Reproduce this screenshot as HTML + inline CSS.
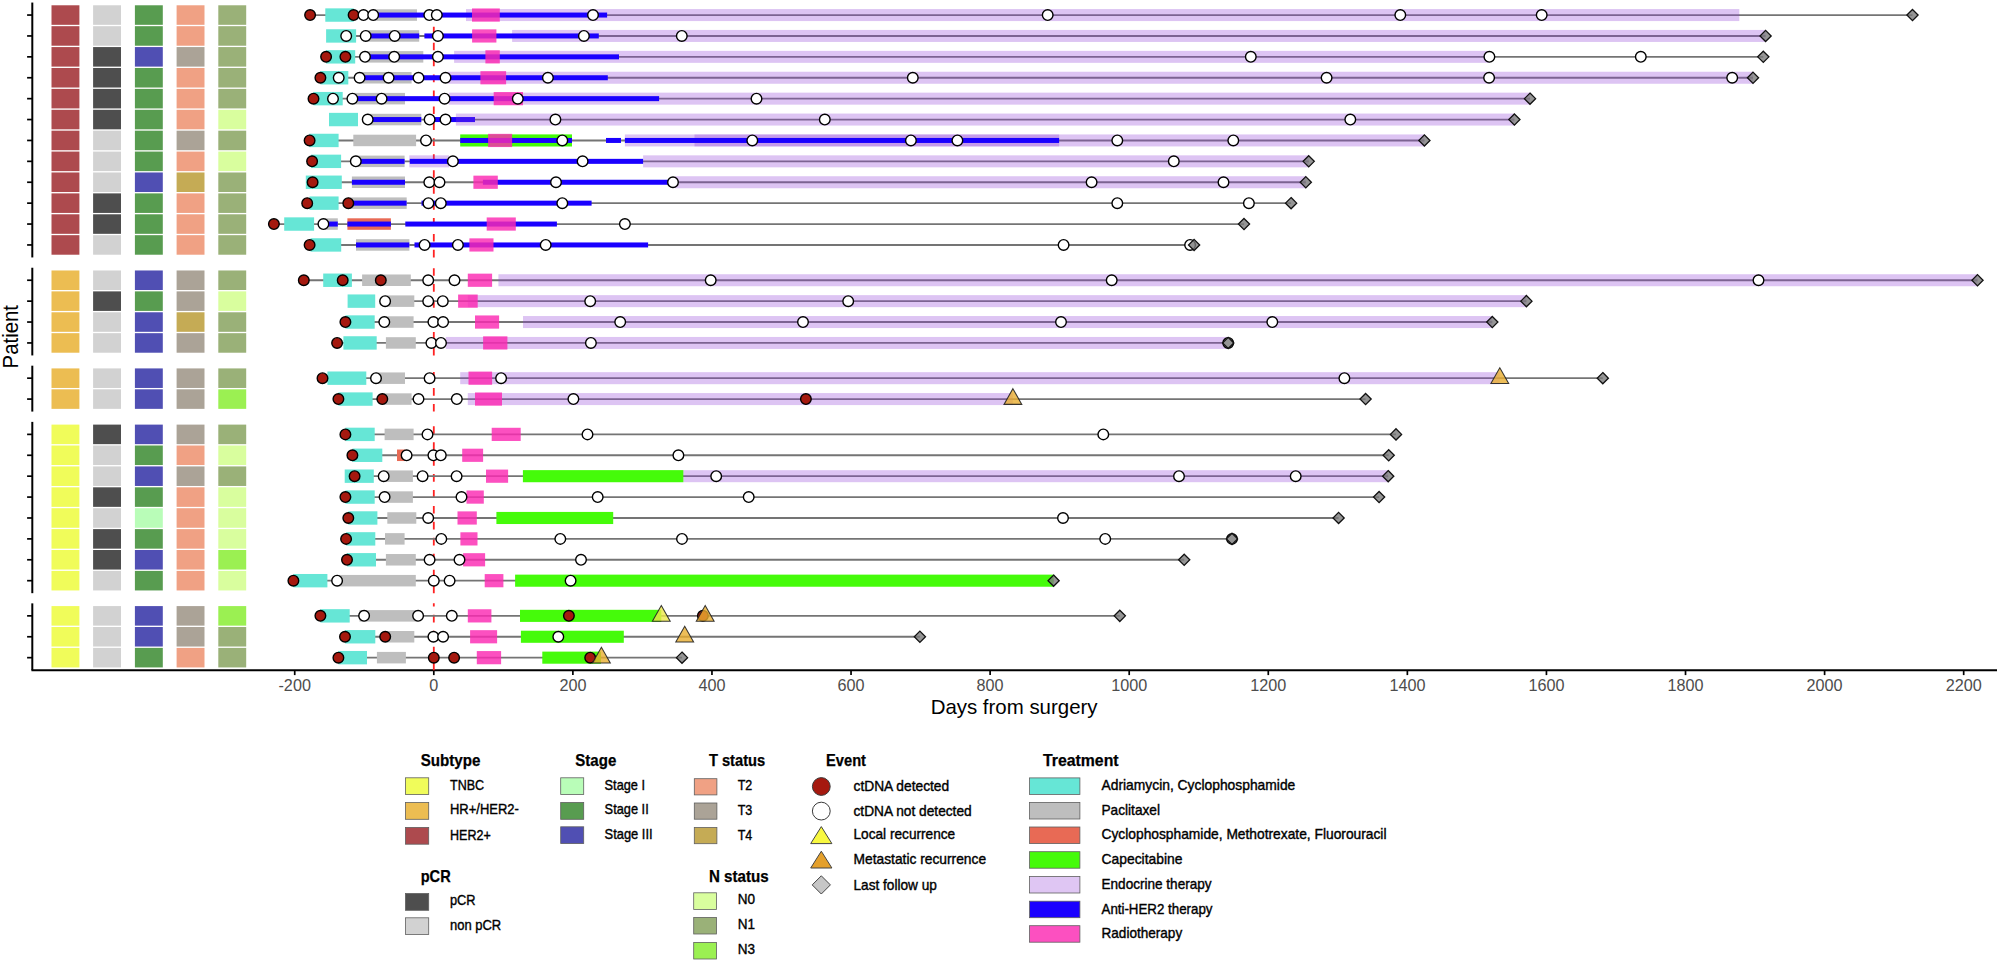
<!DOCTYPE html>
<html lang="en"><head><meta charset="utf-8"><title>Swimmer plot</title>
<style>html,body{margin:0;padding:0;background:#fff}svg{display:block}</style></head>
<body>
<svg width="2000" height="962" viewBox="0 0 2000 962">
<rect x="0" y="0" width="2000" height="962" fill="#ffffff"/>
<g shape-rendering="geometricPrecision">
<rect x="51.5" y="5.28" width="27.9" height="19.55" fill="#ad4a4e"/>
<rect x="93.1" y="5.28" width="27.9" height="19.55" fill="#d2d2d2"/>
<rect x="134.9" y="5.28" width="27.9" height="19.55" fill="#589c50"/>
<rect x="176.6" y="5.28" width="27.9" height="19.55" fill="#f0a184"/>
<rect x="218.3" y="5.28" width="27.9" height="19.55" fill="#9ab178"/>
<rect x="51.5" y="26.18" width="27.9" height="19.55" fill="#ad4a4e"/>
<rect x="93.1" y="26.18" width="27.9" height="19.55" fill="#d2d2d2"/>
<rect x="134.9" y="26.18" width="27.9" height="19.55" fill="#589c50"/>
<rect x="176.6" y="26.18" width="27.9" height="19.55" fill="#f0a184"/>
<rect x="218.3" y="26.18" width="27.9" height="19.55" fill="#9ab178"/>
<rect x="51.5" y="47.07" width="27.9" height="19.55" fill="#ad4a4e"/>
<rect x="93.1" y="47.07" width="27.9" height="19.55" fill="#4e4e4e"/>
<rect x="134.9" y="47.07" width="27.9" height="19.55" fill="#504fb3"/>
<rect x="176.6" y="47.07" width="27.9" height="19.55" fill="#aba397"/>
<rect x="218.3" y="47.07" width="27.9" height="19.55" fill="#9ab178"/>
<rect x="51.5" y="67.97" width="27.9" height="19.55" fill="#ad4a4e"/>
<rect x="93.1" y="67.97" width="27.9" height="19.55" fill="#4e4e4e"/>
<rect x="134.9" y="67.97" width="27.9" height="19.55" fill="#589c50"/>
<rect x="176.6" y="67.97" width="27.9" height="19.55" fill="#f0a184"/>
<rect x="218.3" y="67.97" width="27.9" height="19.55" fill="#9ab178"/>
<rect x="51.5" y="88.87" width="27.9" height="19.55" fill="#ad4a4e"/>
<rect x="93.1" y="88.87" width="27.9" height="19.55" fill="#4e4e4e"/>
<rect x="134.9" y="88.87" width="27.9" height="19.55" fill="#589c50"/>
<rect x="176.6" y="88.87" width="27.9" height="19.55" fill="#f0a184"/>
<rect x="218.3" y="88.87" width="27.9" height="19.55" fill="#9ab178"/>
<rect x="51.5" y="109.77" width="27.9" height="19.55" fill="#ad4a4e"/>
<rect x="93.1" y="109.77" width="27.9" height="19.55" fill="#4e4e4e"/>
<rect x="134.9" y="109.77" width="27.9" height="19.55" fill="#589c50"/>
<rect x="176.6" y="109.77" width="27.9" height="19.55" fill="#f0a184"/>
<rect x="218.3" y="109.77" width="27.9" height="19.55" fill="#d9fe9e"/>
<rect x="51.5" y="130.67" width="27.9" height="19.55" fill="#ad4a4e"/>
<rect x="93.1" y="130.67" width="27.9" height="19.55" fill="#d2d2d2"/>
<rect x="134.9" y="130.67" width="27.9" height="19.55" fill="#589c50"/>
<rect x="176.6" y="130.67" width="27.9" height="19.55" fill="#aba397"/>
<rect x="218.3" y="130.67" width="27.9" height="19.55" fill="#9ab178"/>
<rect x="51.5" y="151.57" width="27.9" height="19.55" fill="#ad4a4e"/>
<rect x="93.1" y="151.57" width="27.9" height="19.55" fill="#d2d2d2"/>
<rect x="134.9" y="151.57" width="27.9" height="19.55" fill="#589c50"/>
<rect x="176.6" y="151.57" width="27.9" height="19.55" fill="#f0a184"/>
<rect x="218.3" y="151.57" width="27.9" height="19.55" fill="#d9fe9e"/>
<rect x="51.5" y="172.47" width="27.9" height="19.55" fill="#ad4a4e"/>
<rect x="93.1" y="172.47" width="27.9" height="19.55" fill="#d2d2d2"/>
<rect x="134.9" y="172.47" width="27.9" height="19.55" fill="#504fb3"/>
<rect x="176.6" y="172.47" width="27.9" height="19.55" fill="#c5ab55"/>
<rect x="218.3" y="172.47" width="27.9" height="19.55" fill="#9ab178"/>
<rect x="51.5" y="193.38" width="27.9" height="19.55" fill="#ad4a4e"/>
<rect x="93.1" y="193.38" width="27.9" height="19.55" fill="#4e4e4e"/>
<rect x="134.9" y="193.38" width="27.9" height="19.55" fill="#589c50"/>
<rect x="176.6" y="193.38" width="27.9" height="19.55" fill="#f0a184"/>
<rect x="218.3" y="193.38" width="27.9" height="19.55" fill="#9ab178"/>
<rect x="51.5" y="214.28" width="27.9" height="19.55" fill="#ad4a4e"/>
<rect x="93.1" y="214.28" width="27.9" height="19.55" fill="#4e4e4e"/>
<rect x="134.9" y="214.28" width="27.9" height="19.55" fill="#589c50"/>
<rect x="176.6" y="214.28" width="27.9" height="19.55" fill="#f0a184"/>
<rect x="218.3" y="214.28" width="27.9" height="19.55" fill="#9ab178"/>
<rect x="51.5" y="235.17" width="27.9" height="19.55" fill="#ad4a4e"/>
<rect x="93.1" y="235.17" width="27.9" height="19.55" fill="#d2d2d2"/>
<rect x="134.9" y="235.17" width="27.9" height="19.55" fill="#589c50"/>
<rect x="176.6" y="235.17" width="27.9" height="19.55" fill="#f0a184"/>
<rect x="218.3" y="235.17" width="27.9" height="19.55" fill="#9ab178"/>
<rect x="51.5" y="270.47" width="27.9" height="19.55" fill="#ecbd52"/>
<rect x="93.1" y="270.47" width="27.9" height="19.55" fill="#d2d2d2"/>
<rect x="134.9" y="270.47" width="27.9" height="19.55" fill="#504fb3"/>
<rect x="176.6" y="270.47" width="27.9" height="19.55" fill="#aba397"/>
<rect x="218.3" y="270.47" width="27.9" height="19.55" fill="#9ab178"/>
<rect x="51.5" y="291.37" width="27.9" height="19.55" fill="#ecbd52"/>
<rect x="93.1" y="291.37" width="27.9" height="19.55" fill="#4e4e4e"/>
<rect x="134.9" y="291.37" width="27.9" height="19.55" fill="#589c50"/>
<rect x="176.6" y="291.37" width="27.9" height="19.55" fill="#aba397"/>
<rect x="218.3" y="291.37" width="27.9" height="19.55" fill="#d9fe9e"/>
<rect x="51.5" y="312.27" width="27.9" height="19.55" fill="#ecbd52"/>
<rect x="93.1" y="312.27" width="27.9" height="19.55" fill="#d2d2d2"/>
<rect x="134.9" y="312.27" width="27.9" height="19.55" fill="#504fb3"/>
<rect x="176.6" y="312.27" width="27.9" height="19.55" fill="#c5ab55"/>
<rect x="218.3" y="312.27" width="27.9" height="19.55" fill="#9ab178"/>
<rect x="51.5" y="333.17" width="27.9" height="19.55" fill="#ecbd52"/>
<rect x="93.1" y="333.17" width="27.9" height="19.55" fill="#d2d2d2"/>
<rect x="134.9" y="333.17" width="27.9" height="19.55" fill="#504fb3"/>
<rect x="176.6" y="333.17" width="27.9" height="19.55" fill="#aba397"/>
<rect x="218.3" y="333.17" width="27.9" height="19.55" fill="#9ab178"/>
<rect x="51.5" y="368.41" width="27.9" height="19.55" fill="#ecbd52"/>
<rect x="93.1" y="368.41" width="27.9" height="19.55" fill="#d2d2d2"/>
<rect x="134.9" y="368.41" width="27.9" height="19.55" fill="#504fb3"/>
<rect x="176.6" y="368.41" width="27.9" height="19.55" fill="#aba397"/>
<rect x="218.3" y="368.41" width="27.9" height="19.55" fill="#9ab178"/>
<rect x="51.5" y="389.31" width="27.9" height="19.55" fill="#ecbd52"/>
<rect x="93.1" y="389.31" width="27.9" height="19.55" fill="#d2d2d2"/>
<rect x="134.9" y="389.31" width="27.9" height="19.55" fill="#504fb3"/>
<rect x="176.6" y="389.31" width="27.9" height="19.55" fill="#aba397"/>
<rect x="218.3" y="389.31" width="27.9" height="19.55" fill="#9bf052"/>
<rect x="51.5" y="424.61" width="27.9" height="19.55" fill="#f0fc5a"/>
<rect x="93.1" y="424.61" width="27.9" height="19.55" fill="#4e4e4e"/>
<rect x="134.9" y="424.61" width="27.9" height="19.55" fill="#504fb3"/>
<rect x="176.6" y="424.61" width="27.9" height="19.55" fill="#aba397"/>
<rect x="218.3" y="424.61" width="27.9" height="19.55" fill="#9ab178"/>
<rect x="51.5" y="445.50" width="27.9" height="19.55" fill="#f0fc5a"/>
<rect x="93.1" y="445.50" width="27.9" height="19.55" fill="#d2d2d2"/>
<rect x="134.9" y="445.50" width="27.9" height="19.55" fill="#589c50"/>
<rect x="176.6" y="445.50" width="27.9" height="19.55" fill="#f0a184"/>
<rect x="218.3" y="445.50" width="27.9" height="19.55" fill="#d9fe9e"/>
<rect x="51.5" y="466.41" width="27.9" height="19.55" fill="#f0fc5a"/>
<rect x="93.1" y="466.41" width="27.9" height="19.55" fill="#d2d2d2"/>
<rect x="134.9" y="466.41" width="27.9" height="19.55" fill="#504fb3"/>
<rect x="176.6" y="466.41" width="27.9" height="19.55" fill="#aba397"/>
<rect x="218.3" y="466.41" width="27.9" height="19.55" fill="#9ab178"/>
<rect x="51.5" y="487.31" width="27.9" height="19.55" fill="#f0fc5a"/>
<rect x="93.1" y="487.31" width="27.9" height="19.55" fill="#4e4e4e"/>
<rect x="134.9" y="487.31" width="27.9" height="19.55" fill="#589c50"/>
<rect x="176.6" y="487.31" width="27.9" height="19.55" fill="#f0a184"/>
<rect x="218.3" y="487.31" width="27.9" height="19.55" fill="#d9fe9e"/>
<rect x="51.5" y="508.21" width="27.9" height="19.55" fill="#f0fc5a"/>
<rect x="93.1" y="508.21" width="27.9" height="19.55" fill="#d2d2d2"/>
<rect x="134.9" y="508.21" width="27.9" height="19.55" fill="#b9fdb8"/>
<rect x="176.6" y="508.21" width="27.9" height="19.55" fill="#f0a184"/>
<rect x="218.3" y="508.21" width="27.9" height="19.55" fill="#d9fe9e"/>
<rect x="51.5" y="529.11" width="27.9" height="19.55" fill="#f0fc5a"/>
<rect x="93.1" y="529.11" width="27.9" height="19.55" fill="#4e4e4e"/>
<rect x="134.9" y="529.11" width="27.9" height="19.55" fill="#589c50"/>
<rect x="176.6" y="529.11" width="27.9" height="19.55" fill="#f0a184"/>
<rect x="218.3" y="529.11" width="27.9" height="19.55" fill="#d9fe9e"/>
<rect x="51.5" y="550.00" width="27.9" height="19.55" fill="#f0fc5a"/>
<rect x="93.1" y="550.00" width="27.9" height="19.55" fill="#4e4e4e"/>
<rect x="134.9" y="550.00" width="27.9" height="19.55" fill="#504fb3"/>
<rect x="176.6" y="550.00" width="27.9" height="19.55" fill="#f0a184"/>
<rect x="218.3" y="550.00" width="27.9" height="19.55" fill="#9bf052"/>
<rect x="51.5" y="570.90" width="27.9" height="19.55" fill="#f0fc5a"/>
<rect x="93.1" y="570.90" width="27.9" height="19.55" fill="#d2d2d2"/>
<rect x="134.9" y="570.90" width="27.9" height="19.55" fill="#589c50"/>
<rect x="176.6" y="570.90" width="27.9" height="19.55" fill="#f0a184"/>
<rect x="218.3" y="570.90" width="27.9" height="19.55" fill="#d9fe9e"/>
<rect x="51.5" y="606.09" width="27.9" height="19.55" fill="#f0fc5a"/>
<rect x="93.1" y="606.09" width="27.9" height="19.55" fill="#d2d2d2"/>
<rect x="134.9" y="606.09" width="27.9" height="19.55" fill="#504fb3"/>
<rect x="176.6" y="606.09" width="27.9" height="19.55" fill="#aba397"/>
<rect x="218.3" y="606.09" width="27.9" height="19.55" fill="#9bf052"/>
<rect x="51.5" y="626.99" width="27.9" height="19.55" fill="#f0fc5a"/>
<rect x="93.1" y="626.99" width="27.9" height="19.55" fill="#d2d2d2"/>
<rect x="134.9" y="626.99" width="27.9" height="19.55" fill="#504fb3"/>
<rect x="176.6" y="626.99" width="27.9" height="19.55" fill="#aba397"/>
<rect x="218.3" y="626.99" width="27.9" height="19.55" fill="#9ab178"/>
<rect x="51.5" y="647.88" width="27.9" height="19.55" fill="#f0fc5a"/>
<rect x="93.1" y="647.88" width="27.9" height="19.55" fill="#d2d2d2"/>
<rect x="134.9" y="647.88" width="27.9" height="19.55" fill="#589c50"/>
<rect x="176.6" y="647.88" width="27.9" height="19.55" fill="#f0a184"/>
<rect x="218.3" y="647.88" width="27.9" height="19.55" fill="#9ab178"/>
</g>
<g stroke="#000" stroke-width="1.7" fill="none">
<line x1="32.3" y1="2.55" x2="32.3" y2="257.45" stroke-width="2"/>
<line x1="32.3" y1="267.74" x2="32.3" y2="355.44" stroke-width="2"/>
<line x1="32.3" y1="365.68" x2="32.3" y2="411.58" stroke-width="2"/>
<line x1="32.3" y1="421.88" x2="32.3" y2="593.18" stroke-width="2"/>
<line x1="32.3" y1="603.36" x2="32.3" y2="670.20" stroke-width="2"/>
<line x1="27.10" y1="15.05" x2="32.3" y2="15.05"/>
<line x1="27.10" y1="35.95" x2="32.3" y2="35.95"/>
<line x1="27.10" y1="56.85" x2="32.3" y2="56.85"/>
<line x1="27.10" y1="77.75" x2="32.3" y2="77.75"/>
<line x1="27.10" y1="98.65" x2="32.3" y2="98.65"/>
<line x1="27.10" y1="119.55" x2="32.3" y2="119.55"/>
<line x1="27.10" y1="140.45" x2="32.3" y2="140.45"/>
<line x1="27.10" y1="161.35" x2="32.3" y2="161.35"/>
<line x1="27.10" y1="182.25" x2="32.3" y2="182.25"/>
<line x1="27.10" y1="203.15" x2="32.3" y2="203.15"/>
<line x1="27.10" y1="224.05" x2="32.3" y2="224.05"/>
<line x1="27.10" y1="244.95" x2="32.3" y2="244.95"/>
<line x1="27.10" y1="280.24" x2="32.3" y2="280.24"/>
<line x1="27.10" y1="301.14" x2="32.3" y2="301.14"/>
<line x1="27.10" y1="322.04" x2="32.3" y2="322.04"/>
<line x1="27.10" y1="342.94" x2="32.3" y2="342.94"/>
<line x1="27.10" y1="378.18" x2="32.3" y2="378.18"/>
<line x1="27.10" y1="399.08" x2="32.3" y2="399.08"/>
<line x1="27.10" y1="434.38" x2="32.3" y2="434.38"/>
<line x1="27.10" y1="455.28" x2="32.3" y2="455.28"/>
<line x1="27.10" y1="476.18" x2="32.3" y2="476.18"/>
<line x1="27.10" y1="497.08" x2="32.3" y2="497.08"/>
<line x1="27.10" y1="517.98" x2="32.3" y2="517.98"/>
<line x1="27.10" y1="538.88" x2="32.3" y2="538.88"/>
<line x1="27.10" y1="559.78" x2="32.3" y2="559.78"/>
<line x1="27.10" y1="580.68" x2="32.3" y2="580.68"/>
<line x1="27.10" y1="615.86" x2="32.3" y2="615.86"/>
<line x1="27.10" y1="636.76" x2="32.3" y2="636.76"/>
<line x1="27.10" y1="657.66" x2="32.3" y2="657.66"/>
<line x1="31.45" y1="670.2" x2="1997" y2="670.2" stroke-width="2"/>
<line x1="294.72" y1="670.2" x2="294.72" y2="675.10"/>
<line x1="433.80" y1="670.2" x2="433.80" y2="675.10"/>
<line x1="572.88" y1="670.2" x2="572.88" y2="675.10"/>
<line x1="711.96" y1="670.2" x2="711.96" y2="675.10"/>
<line x1="851.04" y1="670.2" x2="851.04" y2="675.10"/>
<line x1="990.12" y1="670.2" x2="990.12" y2="675.10"/>
<line x1="1129.20" y1="670.2" x2="1129.20" y2="675.10"/>
<line x1="1268.28" y1="670.2" x2="1268.28" y2="675.10"/>
<line x1="1407.36" y1="670.2" x2="1407.36" y2="675.10"/>
<line x1="1546.44" y1="670.2" x2="1546.44" y2="675.10"/>
<line x1="1685.52" y1="670.2" x2="1685.52" y2="675.10"/>
<line x1="1824.60" y1="670.2" x2="1824.60" y2="675.10"/>
<line x1="1963.68" y1="670.2" x2="1963.68" y2="675.10"/>
</g>
<g stroke="#ff2222" stroke-width="1.8" stroke-dasharray="7.6 8.33" fill="none">
<line x1="433.8" y1="257.45" x2="433.8" y2="2.55"/>
<line x1="433.8" y1="355.44" x2="433.8" y2="267.74"/>
<line x1="433.8" y1="411.58" x2="433.8" y2="365.68"/>
<line x1="433.8" y1="593.18" x2="433.8" y2="421.88"/>
<line x1="433.8" y1="670.20" x2="433.8" y2="603.36"/>
</g>
<g stroke="#747474" stroke-width="1.85" fill="none">
<line x1="310.1" y1="15.05" x2="1912.5" y2="15.05"/>
<line x1="346.2" y1="35.95" x2="1765.6" y2="35.95"/>
<line x1="326.1" y1="56.85" x2="1763.3" y2="56.85"/>
<line x1="320.4" y1="77.75" x2="1753.0" y2="77.75"/>
<line x1="313.5" y1="98.65" x2="1530.0" y2="98.65"/>
<line x1="367.7" y1="119.55" x2="1514.4" y2="119.55"/>
<line x1="309.6" y1="140.45" x2="1424.4" y2="140.45"/>
<line x1="312.1" y1="161.35" x2="1308.7" y2="161.35"/>
<line x1="312.6" y1="182.25" x2="1305.8" y2="182.25"/>
<line x1="307.2" y1="203.15" x2="1291.1" y2="203.15"/>
<line x1="273.9" y1="224.05" x2="1244.0" y2="224.05"/>
<line x1="309.6" y1="244.95" x2="1194.0" y2="244.95"/>
<line x1="303.8" y1="280.24" x2="1977.5" y2="280.24"/>
<line x1="385.1" y1="301.14" x2="1526.4" y2="301.14"/>
<line x1="345.4" y1="322.04" x2="1492.3" y2="322.04"/>
<line x1="337.1" y1="342.94" x2="1228.1" y2="342.94"/>
<line x1="322.5" y1="378.18" x2="1602.8" y2="378.18"/>
<line x1="338.4" y1="399.08" x2="1365.6" y2="399.08"/>
<line x1="345.4" y1="434.38" x2="1396.0" y2="434.38"/>
<line x1="352.4" y1="455.28" x2="1388.7" y2="455.28"/>
<line x1="354.6" y1="476.18" x2="1388.2" y2="476.18"/>
<line x1="345.4" y1="497.08" x2="1379.1" y2="497.08"/>
<line x1="348.3" y1="517.98" x2="1338.6" y2="517.98"/>
<line x1="346.1" y1="538.88" x2="1232.0" y2="538.88"/>
<line x1="347.0" y1="559.78" x2="1184.2" y2="559.78"/>
<line x1="293.4" y1="580.68" x2="1053.6" y2="580.68"/>
<line x1="320.4" y1="615.86" x2="1119.8" y2="615.86"/>
<line x1="345.0" y1="636.76" x2="919.9" y2="636.76"/>
<line x1="338.4" y1="657.66" x2="682.0" y2="657.66"/>
</g>
<g fill="#66e6d6" fill-opacity="1.0">
<rect x="325.3" y="8.35" width="28.4" height="13.4"/>
<rect x="326.1" y="29.25" width="30.0" height="13.4"/>
<rect x="326.0" y="50.15" width="29.2" height="13.4"/>
<rect x="320.4" y="71.05" width="27.9" height="13.4"/>
<rect x="313.5" y="91.95" width="29.2" height="13.4"/>
<rect x="329.0" y="112.85" width="29.0" height="13.4"/>
<rect x="309.3" y="133.75" width="29.3" height="13.4"/>
<rect x="311.0" y="154.65" width="30.1" height="13.4"/>
<rect x="305.8" y="175.55" width="36.0" height="13.4"/>
<rect x="309.5" y="196.45" width="29.1" height="13.4"/>
<rect x="284.2" y="217.35" width="29.9" height="13.4"/>
<rect x="310.5" y="238.25" width="30.7" height="13.4"/>
<rect x="323.2" y="273.54" width="28.7" height="13.4"/>
<rect x="347.6" y="294.44" width="27.6" height="13.4"/>
<rect x="345.4" y="315.34" width="29.3" height="13.4"/>
<rect x="343.4" y="336.24" width="33.3" height="13.4"/>
<rect x="327.4" y="371.48" width="38.9" height="13.4"/>
<rect x="338.4" y="392.38" width="34.2" height="13.4"/>
<rect x="345.4" y="427.68" width="29.3" height="13.4"/>
<rect x="352.4" y="448.58" width="29.9" height="13.4"/>
<rect x="344.7" y="469.48" width="29.1" height="13.4"/>
<rect x="345.4" y="490.38" width="29.3" height="13.4"/>
<rect x="348.3" y="511.28" width="29.1" height="13.4"/>
<rect x="346.1" y="532.18" width="29.2" height="13.4"/>
<rect x="347.0" y="553.08" width="29.0" height="13.4"/>
<rect x="293.4" y="573.98" width="34.0" height="13.4"/>
<rect x="320.4" y="609.16" width="29.3" height="13.4"/>
<rect x="345.0" y="630.06" width="30.3" height="13.4"/>
<rect x="338.4" y="650.96" width="28.6" height="13.4"/>
</g>
<g fill="#bebebe" fill-opacity="1.0">
<rect x="373.0" y="9.30" width="44.0" height="11.5"/>
<rect x="365.7" y="30.20" width="53.5" height="11.5"/>
<rect x="365.0" y="51.10" width="58.3" height="11.5"/>
<rect x="359.6" y="72.00" width="52.0" height="11.5"/>
<rect x="352.4" y="92.90" width="52.6" height="11.5"/>
<rect x="367.7" y="113.80" width="53.6" height="11.5"/>
<rect x="353.3" y="134.70" width="62.8" height="11.5"/>
<rect x="355.8" y="155.60" width="48.8" height="11.5"/>
<rect x="351.9" y="176.50" width="53.1" height="11.5"/>
<rect x="348.3" y="197.40" width="58.4" height="11.5"/>
<rect x="323.4" y="218.30" width="14.4" height="11.5"/>
<rect x="356.0" y="239.20" width="53.4" height="11.5"/>
<rect x="362.1" y="274.49" width="48.7" height="11.5"/>
<rect x="385.0" y="295.39" width="29.3" height="11.5"/>
<rect x="384.3" y="316.29" width="29.3" height="11.5"/>
<rect x="385.9" y="337.19" width="29.9" height="11.5"/>
<rect x="376.0" y="372.43" width="29.0" height="11.5"/>
<rect x="382.3" y="393.33" width="29.3" height="11.5"/>
<rect x="384.6" y="428.63" width="29.0" height="11.5"/>
<rect x="383.7" y="470.43" width="29.2" height="11.5"/>
<rect x="384.6" y="491.33" width="28.3" height="11.5"/>
<rect x="387.3" y="512.23" width="29.0" height="11.5"/>
<rect x="385.0" y="533.13" width="19.6" height="11.5"/>
<rect x="385.9" y="554.03" width="29.9" height="11.5"/>
<rect x="337.1" y="574.93" width="78.7" height="11.5"/>
<rect x="359.5" y="610.11" width="58.6" height="11.5"/>
<rect x="385.2" y="631.01" width="29.1" height="11.5"/>
<rect x="376.9" y="651.91" width="29.0" height="11.5"/>
</g>
<g fill="#e86a55" fill-opacity="1.0">
<rect x="347.4" y="218.30" width="43.5" height="11.5"/>
<rect x="397.0" y="449.53" width="8.3" height="11.5"/>
</g>
<g fill="#45fb0a" fill-opacity="1.0">
<rect x="460.2" y="134.40" width="111.8" height="12.1"/>
<rect x="522.9" y="470.13" width="160.5" height="12.1"/>
<rect x="496.4" y="511.93" width="116.8" height="12.1"/>
<rect x="515.1" y="574.63" width="538.5" height="12.1"/>
<rect x="520.0" y="609.81" width="141.3" height="12.1"/>
<rect x="520.9" y="630.71" width="102.9" height="12.1"/>
<rect x="542.3" y="651.61" width="58.7" height="12.1"/>
</g>
<g fill="#8e3ad7" fill-opacity="0.3">
<rect x="466.0" y="9.05" width="1273.3" height="12.0"/>
<rect x="512.1" y="29.95" width="1253.5" height="12.0"/>
<rect x="454.1" y="50.85" width="1035.2" height="12.0"/>
<rect x="448.0" y="71.75" width="1305.0" height="12.0"/>
<rect x="448.8" y="92.65" width="1081.2" height="12.0"/>
<rect x="455.9" y="113.55" width="1058.5" height="12.0"/>
<rect x="624.9" y="134.45" width="799.5" height="12.0"/>
<rect x="694.5" y="134.45" width="364.6" height="12.0"/>
<rect x="409.3" y="155.35" width="39.7" height="12.0"/>
<rect x="643.1" y="155.35" width="665.6" height="12.0"/>
<rect x="675.0" y="176.25" width="630.8" height="12.0"/>
<rect x="498.4" y="274.24" width="1479.1" height="12.0"/>
<rect x="467.8" y="295.14" width="1058.6" height="12.0"/>
<rect x="523.0" y="316.04" width="969.3" height="12.0"/>
<rect x="445.8" y="336.94" width="782.3" height="12.0"/>
<rect x="460.2" y="372.18" width="1039.6" height="12.0"/>
<rect x="467.8" y="393.08" width="545.1" height="12.0"/>
<rect x="683.4" y="470.18" width="704.8" height="12.0"/>
</g>
<g fill="#1a00ff" fill-opacity="1.0">
<rect x="376.0" y="12.55" width="231.1" height="5.0"/>
<rect x="368.0" y="33.45" width="51.2" height="5.0"/>
<rect x="424.4" y="33.45" width="174.4" height="5.0"/>
<rect x="367.0" y="54.35" width="252.0" height="5.0"/>
<rect x="361.4" y="75.25" width="246.4" height="5.0"/>
<rect x="354.6" y="96.15" width="304.5" height="5.0"/>
<rect x="370.4" y="117.05" width="50.9" height="5.0"/>
<rect x="424.3" y="117.05" width="50.7" height="5.0"/>
<rect x="460.2" y="137.95" width="111.8" height="5.0"/>
<rect x="606.0" y="137.95" width="15.0" height="5.0"/>
<rect x="624.9" y="137.95" width="434.2" height="5.0"/>
<rect x="358.0" y="158.85" width="46.6" height="5.0"/>
<rect x="409.8" y="158.85" width="233.3" height="5.0"/>
<rect x="351.9" y="179.75" width="53.1" height="5.0"/>
<rect x="482.9" y="179.75" width="190.1" height="5.0"/>
<rect x="350.0" y="200.65" width="56.6" height="5.0"/>
<rect x="421.5" y="200.65" width="170.1" height="5.0"/>
<rect x="326.5" y="221.55" width="11.3" height="5.0"/>
<rect x="347.4" y="221.55" width="43.5" height="5.0"/>
<rect x="405.3" y="221.55" width="151.6" height="5.0"/>
<rect x="356.0" y="242.45" width="53.3" height="5.0"/>
<rect x="414.5" y="242.45" width="233.6" height="5.0"/>
</g>
<g fill="#8e3ad7" fill-opacity="0.3">
<rect x="455.9" y="117.05" width="19.1" height="5.0"/>
</g>
<g fill="#fb2ab2" fill-opacity="0.82">
<rect x="472.0" y="8.45" width="27.8" height="13.2"/>
<rect x="472.1" y="29.35" width="24.3" height="13.2"/>
<rect x="485.4" y="50.25" width="14.4" height="13.2"/>
<rect x="480.4" y="71.15" width="25.7" height="13.2"/>
<rect x="493.7" y="92.05" width="29.3" height="13.2"/>
<rect x="488.1" y="133.85" width="24.0" height="13.2"/>
<rect x="473.4" y="175.65" width="24.4" height="13.2"/>
<rect x="486.7" y="217.45" width="29.1" height="13.2"/>
<rect x="469.4" y="238.35" width="24.1" height="13.2"/>
<rect x="467.8" y="273.64" width="24.3" height="13.2"/>
<rect x="458.1" y="294.54" width="19.6" height="13.2"/>
<rect x="475.0" y="315.44" width="24.1" height="13.2"/>
<rect x="483.1" y="336.34" width="24.3" height="13.2"/>
<rect x="468.5" y="371.58" width="23.6" height="13.2"/>
<rect x="475.0" y="392.48" width="27.0" height="13.2"/>
<rect x="491.7" y="427.78" width="29.0" height="13.2"/>
<rect x="462.2" y="448.68" width="20.9" height="13.2"/>
<rect x="486.0" y="469.58" width="22.1" height="13.2"/>
<rect x="466.5" y="490.48" width="17.3" height="13.2"/>
<rect x="457.5" y="511.38" width="19.3" height="13.2"/>
<rect x="460.4" y="532.28" width="17.1" height="13.2"/>
<rect x="463.1" y="553.18" width="22.0" height="13.2"/>
<rect x="484.7" y="574.08" width="18.7" height="13.2"/>
<rect x="467.8" y="609.26" width="23.6" height="13.2"/>
<rect x="470.1" y="630.16" width="27.0" height="13.2"/>
<rect x="476.8" y="651.06" width="24.3" height="13.2"/>
</g>
<g>
<circle cx="310.1" cy="15.05" r="5.3" fill="#a5190f" stroke="#000" stroke-width="1.4"/>
<circle cx="353.6" cy="15.05" r="5.3" fill="#a5190f" stroke="#000" stroke-width="1.4"/>
<circle cx="326.1" cy="56.85" r="5.3" fill="#a5190f" stroke="#000" stroke-width="1.4"/>
<circle cx="345.4" cy="56.85" r="5.3" fill="#a5190f" stroke="#000" stroke-width="1.4"/>
<circle cx="320.4" cy="77.75" r="5.3" fill="#a5190f" stroke="#000" stroke-width="1.4"/>
<circle cx="313.5" cy="98.65" r="5.3" fill="#a5190f" stroke="#000" stroke-width="1.4"/>
<circle cx="309.6" cy="140.45" r="5.3" fill="#a5190f" stroke="#000" stroke-width="1.4"/>
<circle cx="312.1" cy="161.35" r="5.3" fill="#a5190f" stroke="#000" stroke-width="1.4"/>
<circle cx="312.6" cy="182.25" r="5.3" fill="#a5190f" stroke="#000" stroke-width="1.4"/>
<circle cx="307.2" cy="203.15" r="5.3" fill="#a5190f" stroke="#000" stroke-width="1.4"/>
<circle cx="348.3" cy="203.15" r="5.3" fill="#a5190f" stroke="#000" stroke-width="1.4"/>
<circle cx="273.9" cy="224.05" r="5.3" fill="#a5190f" stroke="#000" stroke-width="1.4"/>
<circle cx="309.6" cy="244.95" r="5.3" fill="#a5190f" stroke="#000" stroke-width="1.4"/>
<circle cx="303.8" cy="280.24" r="5.3" fill="#a5190f" stroke="#000" stroke-width="1.4"/>
<circle cx="342.7" cy="280.24" r="5.3" fill="#a5190f" stroke="#000" stroke-width="1.4"/>
<circle cx="380.8" cy="280.24" r="5.3" fill="#a5190f" stroke="#000" stroke-width="1.4"/>
<circle cx="345.4" cy="322.04" r="5.3" fill="#a5190f" stroke="#000" stroke-width="1.4"/>
<circle cx="337.1" cy="342.94" r="5.3" fill="#a5190f" stroke="#000" stroke-width="1.4"/>
<circle cx="322.5" cy="378.18" r="5.3" fill="#a5190f" stroke="#000" stroke-width="1.4"/>
<circle cx="338.4" cy="399.08" r="5.3" fill="#a5190f" stroke="#000" stroke-width="1.4"/>
<circle cx="382.3" cy="399.08" r="5.3" fill="#a5190f" stroke="#000" stroke-width="1.4"/>
<circle cx="805.9" cy="399.08" r="5.3" fill="#a5190f" stroke="#000" stroke-width="1.4"/>
<circle cx="345.4" cy="434.38" r="5.3" fill="#a5190f" stroke="#000" stroke-width="1.4"/>
<circle cx="352.4" cy="455.28" r="5.3" fill="#a5190f" stroke="#000" stroke-width="1.4"/>
<circle cx="354.6" cy="476.18" r="5.3" fill="#a5190f" stroke="#000" stroke-width="1.4"/>
<circle cx="345.4" cy="497.08" r="5.3" fill="#a5190f" stroke="#000" stroke-width="1.4"/>
<circle cx="348.3" cy="517.98" r="5.3" fill="#a5190f" stroke="#000" stroke-width="1.4"/>
<circle cx="346.1" cy="538.88" r="5.3" fill="#a5190f" stroke="#000" stroke-width="1.4"/>
<circle cx="347.0" cy="559.78" r="5.3" fill="#a5190f" stroke="#000" stroke-width="1.4"/>
<circle cx="293.4" cy="580.68" r="5.3" fill="#a5190f" stroke="#000" stroke-width="1.4"/>
<circle cx="320.4" cy="615.86" r="5.3" fill="#a5190f" stroke="#000" stroke-width="1.4"/>
<circle cx="568.9" cy="615.86" r="5.3" fill="#a5190f" stroke="#000" stroke-width="1.4"/>
<circle cx="702.9" cy="615.86" r="5.3" fill="#a5190f" stroke="#000" stroke-width="1.4"/>
<circle cx="345.0" cy="636.76" r="5.3" fill="#a5190f" stroke="#000" stroke-width="1.4"/>
<circle cx="385.2" cy="636.76" r="5.3" fill="#a5190f" stroke="#000" stroke-width="1.4"/>
<circle cx="338.4" cy="657.66" r="5.3" fill="#a5190f" stroke="#000" stroke-width="1.4"/>
<circle cx="433.8" cy="657.66" r="5.3" fill="#a5190f" stroke="#000" stroke-width="1.4"/>
<circle cx="454.1" cy="657.66" r="5.3" fill="#a5190f" stroke="#000" stroke-width="1.4"/>
<circle cx="590.2" cy="657.66" r="5.3" fill="#a5190f" stroke="#000" stroke-width="1.4"/>
</g>
<g>
<circle cx="363.5" cy="15.05" r="5.3" fill="#ffffff" stroke="#000" stroke-width="1.4"/>
<circle cx="373.2" cy="15.05" r="5.3" fill="#ffffff" stroke="#000" stroke-width="1.4"/>
<circle cx="429.3" cy="15.05" r="5.3" fill="#ffffff" stroke="#000" stroke-width="1.4"/>
<circle cx="436.8" cy="15.05" r="5.3" fill="#ffffff" stroke="#000" stroke-width="1.4"/>
<circle cx="593.0" cy="15.05" r="5.3" fill="#ffffff" stroke="#000" stroke-width="1.4"/>
<circle cx="1047.7" cy="15.05" r="5.3" fill="#ffffff" stroke="#000" stroke-width="1.4"/>
<circle cx="1400.3" cy="15.05" r="5.3" fill="#ffffff" stroke="#000" stroke-width="1.4"/>
<circle cx="1541.7" cy="15.05" r="5.3" fill="#ffffff" stroke="#000" stroke-width="1.4"/>
<circle cx="346.2" cy="35.95" r="5.3" fill="#ffffff" stroke="#000" stroke-width="1.4"/>
<circle cx="365.7" cy="35.95" r="5.3" fill="#ffffff" stroke="#000" stroke-width="1.4"/>
<circle cx="394.7" cy="35.95" r="5.3" fill="#ffffff" stroke="#000" stroke-width="1.4"/>
<circle cx="437.9" cy="35.95" r="5.3" fill="#ffffff" stroke="#000" stroke-width="1.4"/>
<circle cx="583.9" cy="35.95" r="5.3" fill="#ffffff" stroke="#000" stroke-width="1.4"/>
<circle cx="681.8" cy="35.95" r="5.3" fill="#ffffff" stroke="#000" stroke-width="1.4"/>
<circle cx="365.0" cy="56.85" r="5.3" fill="#ffffff" stroke="#000" stroke-width="1.4"/>
<circle cx="394.2" cy="56.85" r="5.3" fill="#ffffff" stroke="#000" stroke-width="1.4"/>
<circle cx="437.9" cy="56.85" r="5.3" fill="#ffffff" stroke="#000" stroke-width="1.4"/>
<circle cx="1250.8" cy="56.85" r="5.3" fill="#ffffff" stroke="#000" stroke-width="1.4"/>
<circle cx="1489.4" cy="56.85" r="5.3" fill="#ffffff" stroke="#000" stroke-width="1.4"/>
<circle cx="1640.8" cy="56.85" r="5.3" fill="#ffffff" stroke="#000" stroke-width="1.4"/>
<circle cx="338.7" cy="77.75" r="5.3" fill="#ffffff" stroke="#000" stroke-width="1.4"/>
<circle cx="359.6" cy="77.75" r="5.3" fill="#ffffff" stroke="#000" stroke-width="1.4"/>
<circle cx="388.6" cy="77.75" r="5.3" fill="#ffffff" stroke="#000" stroke-width="1.4"/>
<circle cx="418.5" cy="77.75" r="5.3" fill="#ffffff" stroke="#000" stroke-width="1.4"/>
<circle cx="445.5" cy="77.75" r="5.3" fill="#ffffff" stroke="#000" stroke-width="1.4"/>
<circle cx="547.9" cy="77.75" r="5.3" fill="#ffffff" stroke="#000" stroke-width="1.4"/>
<circle cx="912.8" cy="77.75" r="5.3" fill="#ffffff" stroke="#000" stroke-width="1.4"/>
<circle cx="1326.6" cy="77.75" r="5.3" fill="#ffffff" stroke="#000" stroke-width="1.4"/>
<circle cx="1489.1" cy="77.75" r="5.3" fill="#ffffff" stroke="#000" stroke-width="1.4"/>
<circle cx="1732.2" cy="77.75" r="5.3" fill="#ffffff" stroke="#000" stroke-width="1.4"/>
<circle cx="333.0" cy="98.65" r="5.3" fill="#ffffff" stroke="#000" stroke-width="1.4"/>
<circle cx="352.4" cy="98.65" r="5.3" fill="#ffffff" stroke="#000" stroke-width="1.4"/>
<circle cx="381.6" cy="98.65" r="5.3" fill="#ffffff" stroke="#000" stroke-width="1.4"/>
<circle cx="444.6" cy="98.65" r="5.3" fill="#ffffff" stroke="#000" stroke-width="1.4"/>
<circle cx="517.8" cy="98.65" r="5.3" fill="#ffffff" stroke="#000" stroke-width="1.4"/>
<circle cx="756.5" cy="98.65" r="5.3" fill="#ffffff" stroke="#000" stroke-width="1.4"/>
<circle cx="367.7" cy="119.55" r="5.3" fill="#ffffff" stroke="#000" stroke-width="1.4"/>
<circle cx="429.6" cy="119.55" r="5.3" fill="#ffffff" stroke="#000" stroke-width="1.4"/>
<circle cx="445.5" cy="119.55" r="5.3" fill="#ffffff" stroke="#000" stroke-width="1.4"/>
<circle cx="555.4" cy="119.55" r="5.3" fill="#ffffff" stroke="#000" stroke-width="1.4"/>
<circle cx="824.8" cy="119.55" r="5.3" fill="#ffffff" stroke="#000" stroke-width="1.4"/>
<circle cx="1350.3" cy="119.55" r="5.3" fill="#ffffff" stroke="#000" stroke-width="1.4"/>
<circle cx="426.0" cy="140.45" r="5.3" fill="#ffffff" stroke="#000" stroke-width="1.4"/>
<circle cx="562.3" cy="140.45" r="5.3" fill="#ffffff" stroke="#000" stroke-width="1.4"/>
<circle cx="752.3" cy="140.45" r="5.3" fill="#ffffff" stroke="#000" stroke-width="1.4"/>
<circle cx="910.9" cy="140.45" r="5.3" fill="#ffffff" stroke="#000" stroke-width="1.4"/>
<circle cx="957.4" cy="140.45" r="5.3" fill="#ffffff" stroke="#000" stroke-width="1.4"/>
<circle cx="1117.3" cy="140.45" r="5.3" fill="#ffffff" stroke="#000" stroke-width="1.4"/>
<circle cx="1233.3" cy="140.45" r="5.3" fill="#ffffff" stroke="#000" stroke-width="1.4"/>
<circle cx="355.8" cy="161.35" r="5.3" fill="#ffffff" stroke="#000" stroke-width="1.4"/>
<circle cx="452.9" cy="161.35" r="5.3" fill="#ffffff" stroke="#000" stroke-width="1.4"/>
<circle cx="582.6" cy="161.35" r="5.3" fill="#ffffff" stroke="#000" stroke-width="1.4"/>
<circle cx="1173.8" cy="161.35" r="5.3" fill="#ffffff" stroke="#000" stroke-width="1.4"/>
<circle cx="429.3" cy="182.25" r="5.3" fill="#ffffff" stroke="#000" stroke-width="1.4"/>
<circle cx="439.5" cy="182.25" r="5.3" fill="#ffffff" stroke="#000" stroke-width="1.4"/>
<circle cx="556.0" cy="182.25" r="5.3" fill="#ffffff" stroke="#000" stroke-width="1.4"/>
<circle cx="673.0" cy="182.25" r="5.3" fill="#ffffff" stroke="#000" stroke-width="1.4"/>
<circle cx="1091.6" cy="182.25" r="5.3" fill="#ffffff" stroke="#000" stroke-width="1.4"/>
<circle cx="1223.5" cy="182.25" r="5.3" fill="#ffffff" stroke="#000" stroke-width="1.4"/>
<circle cx="428.4" cy="203.15" r="5.3" fill="#ffffff" stroke="#000" stroke-width="1.4"/>
<circle cx="440.8" cy="203.15" r="5.3" fill="#ffffff" stroke="#000" stroke-width="1.4"/>
<circle cx="562.3" cy="203.15" r="5.3" fill="#ffffff" stroke="#000" stroke-width="1.4"/>
<circle cx="1117.3" cy="203.15" r="5.3" fill="#ffffff" stroke="#000" stroke-width="1.4"/>
<circle cx="1248.9" cy="203.15" r="5.3" fill="#ffffff" stroke="#000" stroke-width="1.4"/>
<circle cx="323.4" cy="224.05" r="5.3" fill="#ffffff" stroke="#000" stroke-width="1.4"/>
<circle cx="624.9" cy="224.05" r="5.3" fill="#ffffff" stroke="#000" stroke-width="1.4"/>
<circle cx="424.6" cy="244.95" r="5.3" fill="#ffffff" stroke="#000" stroke-width="1.4"/>
<circle cx="457.9" cy="244.95" r="5.3" fill="#ffffff" stroke="#000" stroke-width="1.4"/>
<circle cx="545.7" cy="244.95" r="5.3" fill="#ffffff" stroke="#000" stroke-width="1.4"/>
<circle cx="1063.6" cy="244.95" r="5.3" fill="#ffffff" stroke="#000" stroke-width="1.4"/>
<circle cx="1190.1" cy="244.95" r="5.3" fill="#ffffff" stroke="#000" stroke-width="1.4"/>
<circle cx="428.2" cy="280.24" r="5.3" fill="#ffffff" stroke="#000" stroke-width="1.4"/>
<circle cx="454.5" cy="280.24" r="5.3" fill="#ffffff" stroke="#000" stroke-width="1.4"/>
<circle cx="710.7" cy="280.24" r="5.3" fill="#ffffff" stroke="#000" stroke-width="1.4"/>
<circle cx="1111.7" cy="280.24" r="5.3" fill="#ffffff" stroke="#000" stroke-width="1.4"/>
<circle cx="1758.5" cy="280.24" r="5.3" fill="#ffffff" stroke="#000" stroke-width="1.4"/>
<circle cx="385.1" cy="301.14" r="5.3" fill="#ffffff" stroke="#000" stroke-width="1.4"/>
<circle cx="428.2" cy="301.14" r="5.3" fill="#ffffff" stroke="#000" stroke-width="1.4"/>
<circle cx="442.8" cy="301.14" r="5.3" fill="#ffffff" stroke="#000" stroke-width="1.4"/>
<circle cx="590.2" cy="301.14" r="5.3" fill="#ffffff" stroke="#000" stroke-width="1.4"/>
<circle cx="848.2" cy="301.14" r="5.3" fill="#ffffff" stroke="#000" stroke-width="1.4"/>
<circle cx="384.3" cy="322.04" r="5.3" fill="#ffffff" stroke="#000" stroke-width="1.4"/>
<circle cx="433.4" cy="322.04" r="5.3" fill="#ffffff" stroke="#000" stroke-width="1.4"/>
<circle cx="443.1" cy="322.04" r="5.3" fill="#ffffff" stroke="#000" stroke-width="1.4"/>
<circle cx="620.2" cy="322.04" r="5.3" fill="#ffffff" stroke="#000" stroke-width="1.4"/>
<circle cx="803.0" cy="322.04" r="5.3" fill="#ffffff" stroke="#000" stroke-width="1.4"/>
<circle cx="1061.0" cy="322.04" r="5.3" fill="#ffffff" stroke="#000" stroke-width="1.4"/>
<circle cx="1272.3" cy="322.04" r="5.3" fill="#ffffff" stroke="#000" stroke-width="1.4"/>
<circle cx="431.4" cy="342.94" r="5.3" fill="#ffffff" stroke="#000" stroke-width="1.4"/>
<circle cx="441.0" cy="342.94" r="5.3" fill="#ffffff" stroke="#000" stroke-width="1.4"/>
<circle cx="590.9" cy="342.94" r="5.3" fill="#ffffff" stroke="#000" stroke-width="1.4"/>
<circle cx="1228.2" cy="342.94" r="5.3" fill="#ffffff" stroke="#000" stroke-width="1.4"/>
<circle cx="376.0" cy="378.18" r="5.3" fill="#ffffff" stroke="#000" stroke-width="1.4"/>
<circle cx="429.6" cy="378.18" r="5.3" fill="#ffffff" stroke="#000" stroke-width="1.4"/>
<circle cx="501.1" cy="378.18" r="5.3" fill="#ffffff" stroke="#000" stroke-width="1.4"/>
<circle cx="1344.4" cy="378.18" r="5.3" fill="#ffffff" stroke="#000" stroke-width="1.4"/>
<circle cx="418.5" cy="399.08" r="5.3" fill="#ffffff" stroke="#000" stroke-width="1.4"/>
<circle cx="456.8" cy="399.08" r="5.3" fill="#ffffff" stroke="#000" stroke-width="1.4"/>
<circle cx="573.4" cy="399.08" r="5.3" fill="#ffffff" stroke="#000" stroke-width="1.4"/>
<circle cx="427.5" cy="434.38" r="5.3" fill="#ffffff" stroke="#000" stroke-width="1.4"/>
<circle cx="587.5" cy="434.38" r="5.3" fill="#ffffff" stroke="#000" stroke-width="1.4"/>
<circle cx="1103.3" cy="434.38" r="5.3" fill="#ffffff" stroke="#000" stroke-width="1.4"/>
<circle cx="406.6" cy="455.28" r="5.3" fill="#ffffff" stroke="#000" stroke-width="1.4"/>
<circle cx="433.4" cy="455.28" r="5.3" fill="#ffffff" stroke="#000" stroke-width="1.4"/>
<circle cx="440.8" cy="455.28" r="5.3" fill="#ffffff" stroke="#000" stroke-width="1.4"/>
<circle cx="678.4" cy="455.28" r="5.3" fill="#ffffff" stroke="#000" stroke-width="1.4"/>
<circle cx="383.7" cy="476.18" r="5.3" fill="#ffffff" stroke="#000" stroke-width="1.4"/>
<circle cx="422.6" cy="476.18" r="5.3" fill="#ffffff" stroke="#000" stroke-width="1.4"/>
<circle cx="456.6" cy="476.18" r="5.3" fill="#ffffff" stroke="#000" stroke-width="1.4"/>
<circle cx="716.2" cy="476.18" r="5.3" fill="#ffffff" stroke="#000" stroke-width="1.4"/>
<circle cx="1179.0" cy="476.18" r="5.3" fill="#ffffff" stroke="#000" stroke-width="1.4"/>
<circle cx="1295.7" cy="476.18" r="5.3" fill="#ffffff" stroke="#000" stroke-width="1.4"/>
<circle cx="384.6" cy="497.08" r="5.3" fill="#ffffff" stroke="#000" stroke-width="1.4"/>
<circle cx="461.5" cy="497.08" r="5.3" fill="#ffffff" stroke="#000" stroke-width="1.4"/>
<circle cx="597.7" cy="497.08" r="5.3" fill="#ffffff" stroke="#000" stroke-width="1.4"/>
<circle cx="748.7" cy="497.08" r="5.3" fill="#ffffff" stroke="#000" stroke-width="1.4"/>
<circle cx="428.2" cy="517.98" r="5.3" fill="#ffffff" stroke="#000" stroke-width="1.4"/>
<circle cx="1063.0" cy="517.98" r="5.3" fill="#ffffff" stroke="#000" stroke-width="1.4"/>
<circle cx="441.3" cy="538.88" r="5.3" fill="#ffffff" stroke="#000" stroke-width="1.4"/>
<circle cx="560.3" cy="538.88" r="5.3" fill="#ffffff" stroke="#000" stroke-width="1.4"/>
<circle cx="682.0" cy="538.88" r="5.3" fill="#ffffff" stroke="#000" stroke-width="1.4"/>
<circle cx="1105.2" cy="538.88" r="5.3" fill="#ffffff" stroke="#000" stroke-width="1.4"/>
<circle cx="1232.0" cy="538.88" r="5.3" fill="#ffffff" stroke="#000" stroke-width="1.4"/>
<circle cx="429.6" cy="559.78" r="5.3" fill="#ffffff" stroke="#000" stroke-width="1.4"/>
<circle cx="459.5" cy="559.78" r="5.3" fill="#ffffff" stroke="#000" stroke-width="1.4"/>
<circle cx="581.0" cy="559.78" r="5.3" fill="#ffffff" stroke="#000" stroke-width="1.4"/>
<circle cx="337.1" cy="580.68" r="5.3" fill="#ffffff" stroke="#000" stroke-width="1.4"/>
<circle cx="433.8" cy="580.68" r="5.3" fill="#ffffff" stroke="#000" stroke-width="1.4"/>
<circle cx="449.6" cy="580.68" r="5.3" fill="#ffffff" stroke="#000" stroke-width="1.4"/>
<circle cx="570.6" cy="580.68" r="5.3" fill="#ffffff" stroke="#000" stroke-width="1.4"/>
<circle cx="364.1" cy="615.86" r="5.3" fill="#ffffff" stroke="#000" stroke-width="1.4"/>
<circle cx="418.1" cy="615.86" r="5.3" fill="#ffffff" stroke="#000" stroke-width="1.4"/>
<circle cx="451.8" cy="615.86" r="5.3" fill="#ffffff" stroke="#000" stroke-width="1.4"/>
<circle cx="433.4" cy="636.76" r="5.3" fill="#ffffff" stroke="#000" stroke-width="1.4"/>
<circle cx="443.1" cy="636.76" r="5.3" fill="#ffffff" stroke="#000" stroke-width="1.4"/>
<circle cx="558.3" cy="636.76" r="5.3" fill="#ffffff" stroke="#000" stroke-width="1.4"/>
</g>
<g>
<path d="M661.3 605.46 L670.2 621.16 L652.4 621.16 Z" fill="#ece748" fill-opacity="0.8" stroke="#222" stroke-opacity="0.9" stroke-width="1.05" stroke-linejoin="miter"/>
</g>
<g>
<path d="M1499.8 367.78 L1508.7 383.48 L1490.9 383.48 Z" fill="#e8ae30" fill-opacity="0.8" stroke="#222" stroke-opacity="0.9" stroke-width="1.05" stroke-linejoin="miter"/>
<path d="M1012.9 388.68 L1021.8 404.38 L1004.0 404.38 Z" fill="#e8ae30" fill-opacity="0.8" stroke="#222" stroke-opacity="0.9" stroke-width="1.05" stroke-linejoin="miter"/>
<path d="M705.2 605.46 L714.1 621.16 L696.3 621.16 Z" fill="#e8ae30" fill-opacity="0.8" stroke="#222" stroke-opacity="0.9" stroke-width="1.05" stroke-linejoin="miter"/>
<path d="M684.7 626.36 L693.6 642.06 L675.8 642.06 Z" fill="#e8ae30" fill-opacity="0.8" stroke="#222" stroke-opacity="0.9" stroke-width="1.05" stroke-linejoin="miter"/>
<path d="M601.4 647.26 L610.3 662.96 L592.5 662.96 Z" fill="#e8ae30" fill-opacity="0.8" stroke="#222" stroke-opacity="0.9" stroke-width="1.05" stroke-linejoin="miter"/>
</g>
<g>
<path d="M1912.5 9.45 L1918.1 15.05 L1912.5 20.65 L1906.9 15.05 Z" fill="#7a7a7a" fill-opacity="0.8" stroke="#111" stroke-width="1.3" stroke-linejoin="miter"/>
<path d="M1765.6 30.35 L1771.2 35.95 L1765.6 41.55 L1760.0 35.95 Z" fill="#7a7a7a" fill-opacity="0.8" stroke="#111" stroke-width="1.3" stroke-linejoin="miter"/>
<path d="M1763.3 51.25 L1768.9 56.85 L1763.3 62.45 L1757.7 56.85 Z" fill="#7a7a7a" fill-opacity="0.8" stroke="#111" stroke-width="1.3" stroke-linejoin="miter"/>
<path d="M1753.0 72.15 L1758.6 77.75 L1753.0 83.35 L1747.4 77.75 Z" fill="#7a7a7a" fill-opacity="0.8" stroke="#111" stroke-width="1.3" stroke-linejoin="miter"/>
<path d="M1530.0 93.05 L1535.6 98.65 L1530.0 104.25 L1524.4 98.65 Z" fill="#7a7a7a" fill-opacity="0.8" stroke="#111" stroke-width="1.3" stroke-linejoin="miter"/>
<path d="M1514.4 113.95 L1520.0 119.55 L1514.4 125.15 L1508.8 119.55 Z" fill="#7a7a7a" fill-opacity="0.8" stroke="#111" stroke-width="1.3" stroke-linejoin="miter"/>
<path d="M1424.4 134.85 L1430.0 140.45 L1424.4 146.05 L1418.8 140.45 Z" fill="#7a7a7a" fill-opacity="0.8" stroke="#111" stroke-width="1.3" stroke-linejoin="miter"/>
<path d="M1308.7 155.75 L1314.3 161.35 L1308.7 166.95 L1303.1 161.35 Z" fill="#7a7a7a" fill-opacity="0.8" stroke="#111" stroke-width="1.3" stroke-linejoin="miter"/>
<path d="M1305.8 176.65 L1311.4 182.25 L1305.8 187.85 L1300.2 182.25 Z" fill="#7a7a7a" fill-opacity="0.8" stroke="#111" stroke-width="1.3" stroke-linejoin="miter"/>
<path d="M1291.1 197.55 L1296.7 203.15 L1291.1 208.75 L1285.5 203.15 Z" fill="#7a7a7a" fill-opacity="0.8" stroke="#111" stroke-width="1.3" stroke-linejoin="miter"/>
<path d="M1244.0 218.45 L1249.6 224.05 L1244.0 229.65 L1238.4 224.05 Z" fill="#7a7a7a" fill-opacity="0.8" stroke="#111" stroke-width="1.3" stroke-linejoin="miter"/>
<path d="M1194.1 239.35 L1199.7 244.95 L1194.1 250.55 L1188.5 244.95 Z" fill="#7a7a7a" fill-opacity="0.8" stroke="#111" stroke-width="1.3" stroke-linejoin="miter"/>
<path d="M1977.5 274.64 L1983.1 280.24 L1977.5 285.84 L1971.9 280.24 Z" fill="#7a7a7a" fill-opacity="0.8" stroke="#111" stroke-width="1.3" stroke-linejoin="miter"/>
<path d="M1526.4 295.54 L1532.0 301.14 L1526.4 306.74 L1520.8 301.14 Z" fill="#7a7a7a" fill-opacity="0.8" stroke="#111" stroke-width="1.3" stroke-linejoin="miter"/>
<path d="M1492.3 316.44 L1497.9 322.04 L1492.3 327.64 L1486.7 322.04 Z" fill="#7a7a7a" fill-opacity="0.8" stroke="#111" stroke-width="1.3" stroke-linejoin="miter"/>
<path d="M1228.2 337.34 L1233.8 342.94 L1228.2 348.54 L1222.6 342.94 Z" fill="#7a7a7a" fill-opacity="0.8" stroke="#111" stroke-width="1.3" stroke-linejoin="miter"/>
<path d="M1602.8 372.58 L1608.4 378.18 L1602.8 383.78 L1597.2 378.18 Z" fill="#7a7a7a" fill-opacity="0.8" stroke="#111" stroke-width="1.3" stroke-linejoin="miter"/>
<path d="M1365.6 393.48 L1371.2 399.08 L1365.6 404.68 L1360.0 399.08 Z" fill="#7a7a7a" fill-opacity="0.8" stroke="#111" stroke-width="1.3" stroke-linejoin="miter"/>
<path d="M1396.0 428.78 L1401.6 434.38 L1396.0 439.98 L1390.4 434.38 Z" fill="#7a7a7a" fill-opacity="0.8" stroke="#111" stroke-width="1.3" stroke-linejoin="miter"/>
<path d="M1388.7 449.68 L1394.3 455.28 L1388.7 460.88 L1383.1 455.28 Z" fill="#7a7a7a" fill-opacity="0.8" stroke="#111" stroke-width="1.3" stroke-linejoin="miter"/>
<path d="M1388.2 470.58 L1393.8 476.18 L1388.2 481.78 L1382.6 476.18 Z" fill="#7a7a7a" fill-opacity="0.8" stroke="#111" stroke-width="1.3" stroke-linejoin="miter"/>
<path d="M1379.1 491.48 L1384.7 497.08 L1379.1 502.68 L1373.5 497.08 Z" fill="#7a7a7a" fill-opacity="0.8" stroke="#111" stroke-width="1.3" stroke-linejoin="miter"/>
<path d="M1338.6 512.38 L1344.2 517.98 L1338.6 523.58 L1333.0 517.98 Z" fill="#7a7a7a" fill-opacity="0.8" stroke="#111" stroke-width="1.3" stroke-linejoin="miter"/>
<path d="M1232.0 533.28 L1237.6 538.88 L1232.0 544.48 L1226.4 538.88 Z" fill="#7a7a7a" fill-opacity="0.8" stroke="#111" stroke-width="1.3" stroke-linejoin="miter"/>
<path d="M1184.2 554.18 L1189.8 559.78 L1184.2 565.38 L1178.6 559.78 Z" fill="#7a7a7a" fill-opacity="0.8" stroke="#111" stroke-width="1.3" stroke-linejoin="miter"/>
<path d="M1053.6 575.08 L1059.2 580.68 L1053.6 586.28 L1048.0 580.68 Z" fill="#7a7a7a" fill-opacity="0.8" stroke="#111" stroke-width="1.3" stroke-linejoin="miter"/>
<path d="M1119.8 610.26 L1125.4 615.86 L1119.8 621.46 L1114.2 615.86 Z" fill="#7a7a7a" fill-opacity="0.8" stroke="#111" stroke-width="1.3" stroke-linejoin="miter"/>
<path d="M919.9 631.16 L925.5 636.76 L919.9 642.36 L914.3 636.76 Z" fill="#7a7a7a" fill-opacity="0.8" stroke="#111" stroke-width="1.3" stroke-linejoin="miter"/>
<path d="M682.0 652.06 L687.6 657.66 L682.0 663.26 L676.4 657.66 Z" fill="#7a7a7a" fill-opacity="0.8" stroke="#111" stroke-width="1.3" stroke-linejoin="miter"/>
</g>
<g font-family="'Liberation Sans', Arial, Helvetica, sans-serif" font-size="16.2" fill="#4d4d4d" text-anchor="middle">
<text x="294.7" y="691.4">-200</text>
<text x="433.8" y="691.4">0</text>
<text x="572.9" y="691.4">200</text>
<text x="712.0" y="691.4">400</text>
<text x="851.0" y="691.4">600</text>
<text x="990.1" y="691.4">800</text>
<text x="1129.2" y="691.4">1000</text>
<text x="1268.3" y="691.4">1200</text>
<text x="1407.4" y="691.4">1400</text>
<text x="1546.4" y="691.4">1600</text>
<text x="1685.5" y="691.4">1800</text>
<text x="1824.6" y="691.4">2000</text>
<text x="1963.7" y="691.4">2200</text>
</g>
<text x="1014.1" y="713.9" font-family="'Liberation Sans', Arial, Helvetica, sans-serif" font-size="19.8" fill="#000" text-anchor="middle" textLength="166.9" lengthAdjust="spacingAndGlyphs">Days from surgery</text>
<text transform="translate(17.8 336.7) rotate(-90)" font-family="'Liberation Sans', Arial, Helvetica, sans-serif" font-size="21.5" fill="#000" text-anchor="middle" textLength="63.4" lengthAdjust="spacingAndGlyphs">Patient</text>
<text x="420.7" y="765.9" font-family="'Liberation Sans', Arial, Helvetica, sans-serif" font-size="15.7" font-weight="bold" fill="#000" stroke="#000" stroke-width="0.25" textLength="59.7" lengthAdjust="spacingAndGlyphs">Subtype</text>
<rect x="405.4" y="777.8" width="23.3" height="16.8" fill="#f0fc5a" stroke="#5f5f5f" stroke-width="0.8"/>
<text x="450" y="789.7" font-family="'Liberation Sans', Arial, Helvetica, sans-serif" font-size="15" fill="#000" stroke="#000" stroke-width="0.4" textLength="34.1" lengthAdjust="spacingAndGlyphs">TNBC</text>
<rect x="405.4" y="802.5" width="23.3" height="16.8" fill="#ecbd52" stroke="#5f5f5f" stroke-width="0.8"/>
<text x="450" y="814.4" font-family="'Liberation Sans', Arial, Helvetica, sans-serif" font-size="15" fill="#000" stroke="#000" stroke-width="0.4" textLength="68.8" lengthAdjust="spacingAndGlyphs">HR+/HER2-</text>
<rect x="405.4" y="827.4" width="23.3" height="16.8" fill="#ad4a4e" stroke="#5f5f5f" stroke-width="0.8"/>
<text x="450" y="839.6" font-family="'Liberation Sans', Arial, Helvetica, sans-serif" font-size="15" fill="#000" stroke="#000" stroke-width="0.4" textLength="40.8" lengthAdjust="spacingAndGlyphs">HER2+</text>
<text x="420.7" y="882.4" font-family="'Liberation Sans', Arial, Helvetica, sans-serif" font-size="15.7" font-weight="bold" fill="#000" stroke="#000" stroke-width="0.25" textLength="30" lengthAdjust="spacingAndGlyphs">pCR</text>
<rect x="405.4" y="893.5" width="23.3" height="16.8" fill="#4e4e4e" stroke="#5f5f5f" stroke-width="0.8"/>
<text x="450" y="905.2" font-family="'Liberation Sans', Arial, Helvetica, sans-serif" font-size="15" fill="#000" stroke="#000" stroke-width="0.4" textLength="25.6" lengthAdjust="spacingAndGlyphs">pCR</text>
<rect x="405.4" y="917.8" width="23.3" height="16.8" fill="#d2d2d2" stroke="#5f5f5f" stroke-width="0.8"/>
<text x="450" y="930.3" font-family="'Liberation Sans', Arial, Helvetica, sans-serif" font-size="15" fill="#000" stroke="#000" stroke-width="0.4" textLength="51.2" lengthAdjust="spacingAndGlyphs">non pCR</text>
<text x="575.3" y="765.9" font-family="'Liberation Sans', Arial, Helvetica, sans-serif" font-size="15.7" font-weight="bold" fill="#000" stroke="#000" stroke-width="0.25" textLength="41" lengthAdjust="spacingAndGlyphs">Stage</text>
<rect x="560.7" y="777.8" width="23.0" height="16.8" fill="#b9fdb8" stroke="#5f5f5f" stroke-width="0.8"/>
<text x="604.6" y="789.7" font-family="'Liberation Sans', Arial, Helvetica, sans-serif" font-size="15" fill="#000" stroke="#000" stroke-width="0.4" textLength="40.4" lengthAdjust="spacingAndGlyphs">Stage I</text>
<rect x="560.7" y="802.5" width="23.0" height="16.8" fill="#589c50" stroke="#5f5f5f" stroke-width="0.8"/>
<text x="604.6" y="814.4" font-family="'Liberation Sans', Arial, Helvetica, sans-serif" font-size="15" fill="#000" stroke="#000" stroke-width="0.4" textLength="44.1" lengthAdjust="spacingAndGlyphs">Stage II</text>
<rect x="560.7" y="826.8" width="23.0" height="16.8" fill="#504fb3" stroke="#5f5f5f" stroke-width="0.8"/>
<text x="604.6" y="839.0" font-family="'Liberation Sans', Arial, Helvetica, sans-serif" font-size="15" fill="#000" stroke="#000" stroke-width="0.4" textLength="48" lengthAdjust="spacingAndGlyphs">Stage III</text>
<text x="708.9" y="765.9" font-family="'Liberation Sans', Arial, Helvetica, sans-serif" font-size="15.7" font-weight="bold" fill="#000" stroke="#000" stroke-width="0.25" textLength="56.3" lengthAdjust="spacingAndGlyphs">T status</text>
<rect x="694.3" y="778.7" width="22.6" height="16.2" fill="#f0a184" stroke="#5f5f5f" stroke-width="0.8"/>
<text x="737.7" y="790.3000000000001" font-family="'Liberation Sans', Arial, Helvetica, sans-serif" font-size="15" fill="#000" stroke="#000" stroke-width="0.4" textLength="14.6" lengthAdjust="spacingAndGlyphs">T2</text>
<rect x="694.3" y="803.0" width="22.6" height="16.2" fill="#aba397" stroke="#5f5f5f" stroke-width="0.8"/>
<text x="737.7" y="815.0" font-family="'Liberation Sans', Arial, Helvetica, sans-serif" font-size="15" fill="#000" stroke="#000" stroke-width="0.4" textLength="14.6" lengthAdjust="spacingAndGlyphs">T3</text>
<rect x="694.3" y="827.5" width="22.6" height="16.2" fill="#c5ab55" stroke="#5f5f5f" stroke-width="0.8"/>
<text x="737.7" y="840.2" font-family="'Liberation Sans', Arial, Helvetica, sans-serif" font-size="15" fill="#000" stroke="#000" stroke-width="0.4" textLength="14.6" lengthAdjust="spacingAndGlyphs">T4</text>
<text x="708.9" y="881.5" font-family="'Liberation Sans', Arial, Helvetica, sans-serif" font-size="15.7" font-weight="bold" fill="#000" stroke="#000" stroke-width="0.25" textLength="59.7" lengthAdjust="spacingAndGlyphs">N status</text>
<rect x="693.7" y="892.8" width="22.8" height="16.6" fill="#d9fe9e" stroke="#5f5f5f" stroke-width="0.8"/>
<text x="737.7" y="904.3" font-family="'Liberation Sans', Arial, Helvetica, sans-serif" font-size="15" fill="#000" stroke="#000" stroke-width="0.4" textLength="17.3" lengthAdjust="spacingAndGlyphs">N0</text>
<rect x="693.7" y="917.4" width="22.8" height="16.6" fill="#9ab178" stroke="#5f5f5f" stroke-width="0.8"/>
<text x="737.7" y="929.2" font-family="'Liberation Sans', Arial, Helvetica, sans-serif" font-size="15" fill="#000" stroke="#000" stroke-width="0.4" textLength="17.3" lengthAdjust="spacingAndGlyphs">N1</text>
<rect x="693.7" y="942.4" width="22.8" height="16.6" fill="#9bf052" stroke="#5f5f5f" stroke-width="0.8"/>
<text x="737.7" y="954.1" font-family="'Liberation Sans', Arial, Helvetica, sans-serif" font-size="15" fill="#000" stroke="#000" stroke-width="0.4" textLength="17.3" lengthAdjust="spacingAndGlyphs">N3</text>
<text x="826.1" y="766.4" font-family="'Liberation Sans', Arial, Helvetica, sans-serif" font-size="15.7" font-weight="bold" fill="#000" stroke="#000" stroke-width="0.25" textLength="39.9" lengthAdjust="spacingAndGlyphs">Event</text>
<circle cx="821.3" cy="786.5" r="8.9" fill="#a5190f" stroke="#3a3a3a" stroke-width="1"/>
<circle cx="821.3" cy="811.1" r="8.9" fill="#fff" stroke="#3a3a3a" stroke-width="1"/>
<path d="M821.3 826.6 L831.9 843.6 L810.6999999999999 843.6 Z" fill="#f8f840" stroke="#444" stroke-width="1"/>
<path d="M821.3 851.2 L831.9 868 L810.6999999999999 868 Z" fill="#e4a02c" stroke="#444" stroke-width="1"/>
<path d="M821.3 875.8 L830.4 884.9 L821.3 894 L812.1999999999999 884.9 Z" fill="#c6c6c6" stroke="#444" stroke-width="1"/>
<text x="853.5" y="791" font-family="'Liberation Sans', Arial, Helvetica, sans-serif" font-size="15" fill="#000" stroke="#000" stroke-width="0.4" textLength="95.7" lengthAdjust="spacingAndGlyphs">ctDNA detected</text>
<text x="853.5" y="815.6" font-family="'Liberation Sans', Arial, Helvetica, sans-serif" font-size="15" fill="#000" stroke="#000" stroke-width="0.4" textLength="118.2" lengthAdjust="spacingAndGlyphs">ctDNA not detected</text>
<text x="853.5" y="838.7" font-family="'Liberation Sans', Arial, Helvetica, sans-serif" font-size="15" fill="#000" stroke="#000" stroke-width="0.4" textLength="101.7" lengthAdjust="spacingAndGlyphs">Local recurrence</text>
<text x="853.5" y="863.6" font-family="'Liberation Sans', Arial, Helvetica, sans-serif" font-size="15" fill="#000" stroke="#000" stroke-width="0.4" textLength="132.6" lengthAdjust="spacingAndGlyphs">Metastatic recurrence</text>
<text x="853.5" y="889.7" font-family="'Liberation Sans', Arial, Helvetica, sans-serif" font-size="15" fill="#000" stroke="#000" stroke-width="0.4" textLength="83.4" lengthAdjust="spacingAndGlyphs">Last follow up</text>
<text x="1043" y="766.4" font-family="'Liberation Sans', Arial, Helvetica, sans-serif" font-size="15.7" font-weight="bold" fill="#000" stroke="#000" stroke-width="0.25" textLength="75.6" lengthAdjust="spacingAndGlyphs">Treatment</text>
<rect x="1029.6" y="777.9" width="50.3" height="16.5" fill="#66e6d6" stroke="#5f5f5f" stroke-width="0.8"/>
<text x="1101.5" y="790.1" font-family="'Liberation Sans', Arial, Helvetica, sans-serif" font-size="15" fill="#000" stroke="#000" stroke-width="0.4" textLength="193.8" lengthAdjust="spacingAndGlyphs">Adriamycin, Cyclophosphamide</text>
<rect x="1029.6" y="802.5" width="50.3" height="16.5" fill="#bebebe" stroke="#5f5f5f" stroke-width="0.8"/>
<text x="1101.5" y="814.7" font-family="'Liberation Sans', Arial, Helvetica, sans-serif" font-size="15" fill="#000" stroke="#000" stroke-width="0.4" textLength="58.5" lengthAdjust="spacingAndGlyphs">Paclitaxel</text>
<rect x="1029.6" y="827.0" width="50.3" height="16.5" fill="#e86a55" stroke="#5f5f5f" stroke-width="0.8"/>
<text x="1101.5" y="839.0" font-family="'Liberation Sans', Arial, Helvetica, sans-serif" font-size="15" fill="#000" stroke="#000" stroke-width="0.4" textLength="285" lengthAdjust="spacingAndGlyphs">Cyclophosphamide, Methotrexate, Fluorouracil</text>
<rect x="1029.6" y="851.7" width="50.3" height="16.5" fill="#45fb0a" stroke="#5f5f5f" stroke-width="0.8"/>
<text x="1101.5" y="863.9" font-family="'Liberation Sans', Arial, Helvetica, sans-serif" font-size="15" fill="#000" stroke="#000" stroke-width="0.4" textLength="81" lengthAdjust="spacingAndGlyphs">Capecitabine</text>
<rect x="1029.6" y="876.5" width="50.3" height="16.5" fill="#dfc6f3" stroke="#5f5f5f" stroke-width="0.8"/>
<text x="1101.5" y="888.5" font-family="'Liberation Sans', Arial, Helvetica, sans-serif" font-size="15" fill="#000" stroke="#000" stroke-width="0.4" textLength="110.1" lengthAdjust="spacingAndGlyphs">Endocrine therapy</text>
<rect x="1029.6" y="901.2" width="50.3" height="16.5" fill="#1a00ff" stroke="#5f5f5f" stroke-width="0.8"/>
<text x="1101.5" y="913.7" font-family="'Liberation Sans', Arial, Helvetica, sans-serif" font-size="15" fill="#000" stroke="#000" stroke-width="0.4" textLength="111" lengthAdjust="spacingAndGlyphs">Anti-HER2 therapy</text>
<rect x="1029.6" y="925.7" width="50.3" height="16.5" fill="#fc50c0" stroke="#5f5f5f" stroke-width="0.8"/>
<text x="1101.5" y="937.7" font-family="'Liberation Sans', Arial, Helvetica, sans-serif" font-size="15" fill="#000" stroke="#000" stroke-width="0.4" textLength="80.7" lengthAdjust="spacingAndGlyphs">Radiotherapy</text>
</svg>
</body></html>
